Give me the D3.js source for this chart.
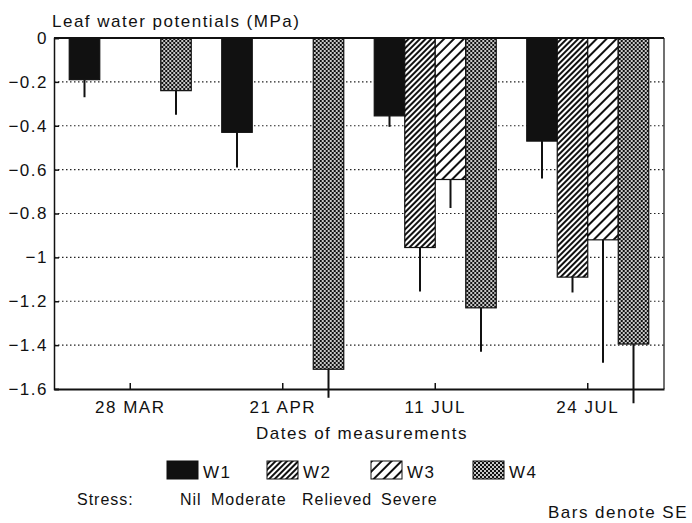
<!DOCTYPE html>
<html lang="en">
<head>
    <meta charset="UTF-8">
    <title>Leaf water potentials</title>
    <script src="https://d3js.org/d3.v7.min.js"></script>
    <style>
        body { margin: 0; background: #fff; }
        svg text { font-family: "Liberation Sans", Arial, sans-serif; fill: #111; letter-spacing: 1.5px; font-size: 17px; }
        svg text.stress { font-size: 16px; letter-spacing: 1px; }
    </style>
</head>
<body>
    <div id="chart"></div>
    <script>
        // data
        const dates = ["28 MAR", "21 APR", "11 JUL", "24 JUL"];
        const series = ["W1", "W2", "W3", "W4"];
        const stress = ["Nil", "Moderate", "Relieved", "Severe"];
        const yTicks = [0, -0.2, -0.4, -0.6, -0.8, -1, -1.2, -1.4, -1.6];

        // mean leaf water potential (MPa), null = not measured
        const w1 = [-0.19, -0.43, -0.355, -0.47];
        const w2 = [null, null, -0.955, -1.09];
        const w3 = [null, null, -0.645, -0.92];
        const w4 = [-0.24, -1.51, -1.23, -1.395];

        // standard errors
        const se1 = [0.08, 0.16, 0.05, 0.17];
        const se2 = [null, null, 0.2, 0.07];
        const se3 = [null, null, 0.13, 0.56];
        const se4 = [0.11, 0.13, 0.2, 0.27];

        const means = [w1, w2, w3, w4];
        const errors = [se1, se2, se3, se4];

        const rows = [];
        dates.forEach((d, i) => {
            series.forEach((s, j) => {
                if (means[j][i] !== null) rows.push({date: d, key: s, value: means[j][i], se: errors[j][i]});
            });
        });

        const svg = d3.select("#chart").append("svg")
            .attr("width", 692)
            .attr("height", 523);

        const margin = {top: 38, right: 28, bottom: 134, left: 54},
              width = 692 - margin.left - margin.right,
              height = 523 - margin.top - margin.bottom;

        // fill patterns
        const defs = svg.append("defs");
        const p2 = defs.append("pattern").attr("id", "pat-w2")
            .attr("patternUnits", "userSpaceOnUse").attr("width", 4).attr("height", 4)
            .attr("patternTransform", "rotate(45)");
        p2.append("rect").attr("width", 4).attr("height", 4).attr("fill", "#fff");
        p2.append("rect").attr("width", 2).attr("height", 4).attr("fill", "#111");

        const p3 = defs.append("pattern").attr("id", "pat-w3")
            .attr("patternUnits", "userSpaceOnUse").attr("width", 7).attr("height", 7)
            .attr("patternTransform", "rotate(45)");
        p3.append("rect").attr("width", 7).attr("height", 7).attr("fill", "#fff");
        p3.append("rect").attr("width", 2).attr("height", 7).attr("fill", "#111");

        const p4 = defs.append("pattern").attr("id", "pat-w4")
            .attr("patternUnits", "userSpaceOnUse").attr("width", 4).attr("height", 4);
        p4.append("rect").attr("width", 4).attr("height", 4).attr("fill", "#c8c8c8");
        p4.append("rect").attr("width", 2).attr("height", 2).attr("fill", "#111");
        p4.append("rect").attr("x", 2).attr("y", 2).attr("width", 2).attr("height", 2).attr("fill", "#111");

        const fills = d3.scaleOrdinal()
            .domain(series)
            .range(["#111", "url(#pat-w2)", "url(#pat-w3)", "url(#pat-w4)"]);

        const g = svg.append("g").attr("transform", `translate(${margin.left},${margin.top})`);

        // scales
        const x0 = d3.scaleBand()
            .domain(dates)
            .range([0, width])
            .paddingInner(0.2)
            .paddingOuter(0.1);
        const x1 = d3.scaleBand()
            .domain(series)
            .range([0, x0.bandwidth()]);
        const y = d3.scaleLinear()
            .domain([-1.6, 0])
            .range([height, 0]);

        // dotted grid
        g.append("g")
            .selectAll("line")
            .data(yTicks.filter(t => t !== 0 && t !== -1.6))
            .join("line")
            .attr("x1", 0).attr("x2", width)
            .attr("y1", d => y(d)).attr("y2", d => y(d))
            .attr("stroke", "#222")
            .attr("stroke-width", 1.2)
            .attr("stroke-dasharray", "1.5,2.5");

        // bars
        const groups = g.selectAll(".grp")
            .data(dates)
            .join("g")
            .attr("class", "grp")
            .attr("transform", d => `translate(${x0(d)},0)`);

        groups.selectAll("rect")
            .data(d => rows.filter(r => r.date === d))
            .join("rect")
            .attr("x", d => x1(d.key))
            .attr("y", y(0))
            .attr("width", x1.bandwidth())
            .attr("height", d => y(d.value) - y(0))
            .attr("fill", d => fills(d.key))
            .attr("stroke", "#111")
            .attr("stroke-width", 1.2);

        // error bars (downward only)
        groups.selectAll("line.err")
            .data(d => rows.filter(r => r.date === d))
            .join("line")
            .attr("class", "err")
            .attr("x1", d => x1(d.key) + x1.bandwidth() / 2)
            .attr("x2", d => x1(d.key) + x1.bandwidth() / 2)
            .attr("y1", d => y(d.value))
            .attr("y2", d => y(d.value - d.se))
            .attr("stroke", "#111")
            .attr("stroke-width", 2);

        // axes
        const yAxis = g.append("g")
            .call(d3.axisLeft(y).tickValues(yTicks).tickSize(-5).tickPadding(6).tickFormat(d => d3.format("")(d)));
        yAxis.select(".domain").attr("stroke", "#111").attr("stroke-width", 1.5);
        yAxis.selectAll(".tick line").attr("stroke", "#111").attr("stroke-width", 1.5);
        yAxis.selectAll("text").attr("font-size", null).attr("font-family", null);

        const xAxis = g.append("g")
            .attr("transform", `translate(0,${height})`)
            .call(d3.axisBottom(x0).tickSize(-6).tickPadding(12).tickSizeOuter(0));
        xAxis.select(".domain").attr("stroke", "#111").attr("stroke-width", 2);
        xAxis.selectAll(".tick line").attr("stroke", "#111").attr("stroke-width", 1.5);
        xAxis.selectAll("text").attr("font-size", null).attr("font-family", null);

        // top and right frame
        g.append("line").attr("x1", 0).attr("x2", width).attr("y1", 0).attr("y2", 0)
            .attr("stroke", "#111").attr("stroke-width", 2);
        g.append("line").attr("x1", width).attr("x2", width).attr("y1", 0).attr("y2", height)
            .attr("stroke", "#111").attr("stroke-width", 1.2);

        // titles
        svg.append("text")
            .attr("x", 52).attr("y", 27)
            .text("Leaf water potentials (MPa)");

        svg.append("text")
            .attr("x", 362).attr("y", 439)
            .attr("text-anchor", "middle")
            .text("Dates of measurements");

        // legend
        const legendX = [167, 267, 371, 473];
        const legend = svg.append("g");
        legend.selectAll("rect")
            .data(series)
            .join("rect")
            .attr("x", (d, i) => legendX[i])
            .attr("y", 461)
            .attr("width", 31)
            .attr("height", 18)
            .attr("fill", d => fills(d))
            .attr("stroke", "#111")
            .attr("stroke-width", 1);
        legend.selectAll("text.key")
            .data(series)
            .join("text")
            .attr("class", "key")
            .attr("x", (d, i) => legendX[i] + 36)
            .attr("y", 478)
            .text(d => d);

        const stressX = [180, 211, 302, 381];
        svg.append("text")
            .attr("class", "stress")
            .attr("x", 77).attr("y", 505)
            .text("Stress:");
        legend.selectAll("text.stress")
            .data(stress)
            .join("text")
            .attr("class", "stress")
            .attr("x", (d, i) => stressX[i])
            .attr("y", 505)
            .text(d => d);

        svg.append("text")
            .attr("x", 688).attr("y", 518)
            .attr("text-anchor", "end")
            .text("Bars denote SE");
    </script>
</body>
</html>
